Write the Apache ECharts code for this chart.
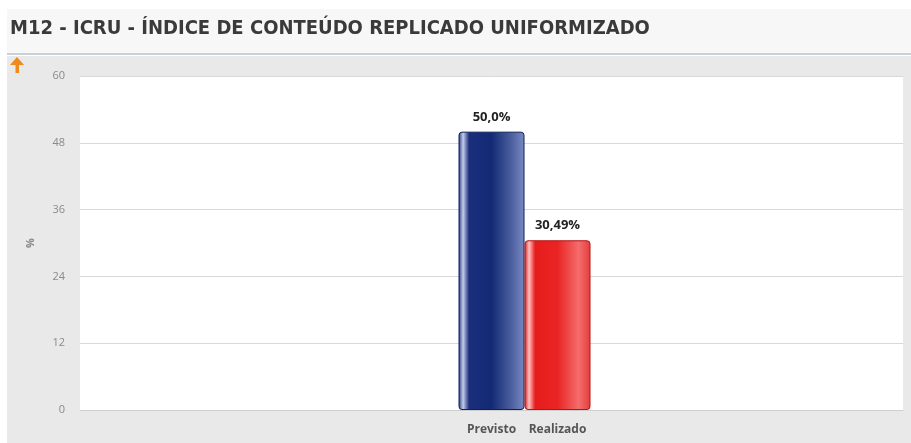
<!DOCTYPE html>
<html>
<head>
<meta charset="utf-8">
<style>
  html, body { margin: 0; padding: 0; background: #ffffff; }
  #chart { width: 911px; height: 443px; }
</style>
<script src="https://cdn.jsdelivr.net/npm/echarts@6/dist/echarts.min.js"></script>
</head>
<body>
<div id="chart"></div>
<script>
// --- data ---
var titleText = 'M12 - ICRU - ÍNDICE DE CONTEÚDO REPLICADO UNIFORMIZADO';
var seriesNames = ['Previsto', 'Realizado'];
var seriesValues = [50.0, 30.49];
var valueLabels = ['50,0%', '30,49%'];
var yTicks = [0, 12, 24, 36, 48, 60];

var blueGrad = new echarts.graphic.LinearGradient(0, 0, 1, 0, [
  { offset: 0, color: '#24367f' },
  { offset: 0.07, color: '#c4cdea' },
  { offset: 0.16, color: '#1b2e7c' },
  { offset: 0.5, color: '#132a74' },
  { offset: 0.8, color: '#4b5f9e' },
  { offset: 1, color: '#7a8ac2' }
]);
var redGrad = new echarts.graphic.LinearGradient(0, 0, 1, 0, [
  { offset: 0, color: '#d41a1a' },
  { offset: 0.07, color: '#ffc0c0' },
  { offset: 0.16, color: '#e61c1c' },
  { offset: 0.5, color: '#ea2424' },
  { offset: 0.82, color: '#f46c6c' },
  { offset: 1, color: '#e63c3c' }
]);
var fills = [blueGrad, redGrad];
var borders = ['#0e1f5c', '#b51414'];

// an empty slot on the left keeps Previsto centred like the original
var series = [{
  name: 'empty',
  type: 'bar',
  stack: 'empty',
  barWidth: 66,
  barGap: '0%',
  data: ['-'],
  silent: true
}];
seriesNames.forEach(function(name, i) {
  // zero-height bar at the base that carries the category name under the bar
  series.push({
    name: name + '-label',
    type: 'bar',
    stack: 's' + i,
    barWidth: 66,
    barGap: '0%',
    data: [0],
    itemStyle: { color: 'transparent' },
    label: {
      show: true,
      position: 'bottom',
      distance: 14,
      formatter: name,
      color: '#555',
      fontFamily: 'Open Sans',
      fontWeight: 'bold',
      fontSize: 12
    },
    silent: true
  });
  series.push({
    name: name,
    type: 'bar',
    stack: 's' + i,
    barWidth: 66,
    barGap: '0%',
    data: [seriesValues[i]],
    itemStyle: {
      color: fills[i],
      borderColor: borders[i],
      borderWidth: 1,
      borderRadius: 3
    },
    label: {
      show: true,
      position: 'top',
      distance: 8,
      formatter: valueLabels[i],
      color: '#222',
      fontFamily: 'Open Sans',
      fontWeight: 'bold',
      fontSize: 13
    }
  });
});

var chart = echarts.init(document.getElementById('chart'), null, { renderer: 'canvas' });
chart.setOption({
  animation: false,
  backgroundColor: '#ffffff',
  graphic: [
    // header band
    { type: 'rect', z: -10, shape: { x: 7, y: 9, width: 904, height: 45 },
      style: { fill: '#f7f7f7' } },
    { type: 'rect', z: -10, shape: { x: 7, y: 53, width: 904, height: 2 },
      style: { fill: '#c9d0db' } },
    // chart panel
    { type: 'rect', z: -10, shape: { x: 7, y: 56, width: 904, height: 387 },
      style: { fill: '#e9e9e9' } },
    { type: 'rect', z: -9, shape: { x: 80, y: 76, width: 823, height: 334 },
      style: { fill: '#ffffff' } },
    { type: 'text', left: 10, top: 19,
      style: { text: titleText, fill: '#3a3a3a', font: 'bold 20px "DejaVu Sans Condensed"' } },
    // orange arrow
    { type: 'polygon', shape: { points: [[17, 57], [10, 65], [24, 65]] },
      style: { fill: '#f08a1c' } },
    { type: 'rect', shape: { x: 15.5, y: 63, width: 3.5, height: 10 },
      style: { fill: '#f08a1c' } }
  ],
  grid: { left: 80, right: 8, top: 76, bottom: 33 },
  xAxis: {
    type: 'category',
    data: [''],
    axisLine: { show: true, lineStyle: { color: '#cfcfcf' } },
    axisTick: { show: false },
    axisLabel: { show: false }
  },
  yAxis: {
    type: 'value',
    min: yTicks[0],
    max: yTicks[yTicks.length - 1],
    interval: 12,
    name: '%',
    nameLocation: 'middle',
    nameGap: 44,
    nameRotate: 90,
    nameTextStyle: { color: '#888', fontFamily: 'Open Sans', fontSize: 11, fontWeight: 'bold' },
    axisLine: { show: false },
    axisTick: { show: false },
    axisLabel: { color: '#8a8a8a', fontFamily: 'Open Sans', fontSize: 11, margin: 15 },
    splitLine: { lineStyle: { color: '#d9d9d9', width: 1 } }
  },
  series: series
});
</script>
</body>
</html>
